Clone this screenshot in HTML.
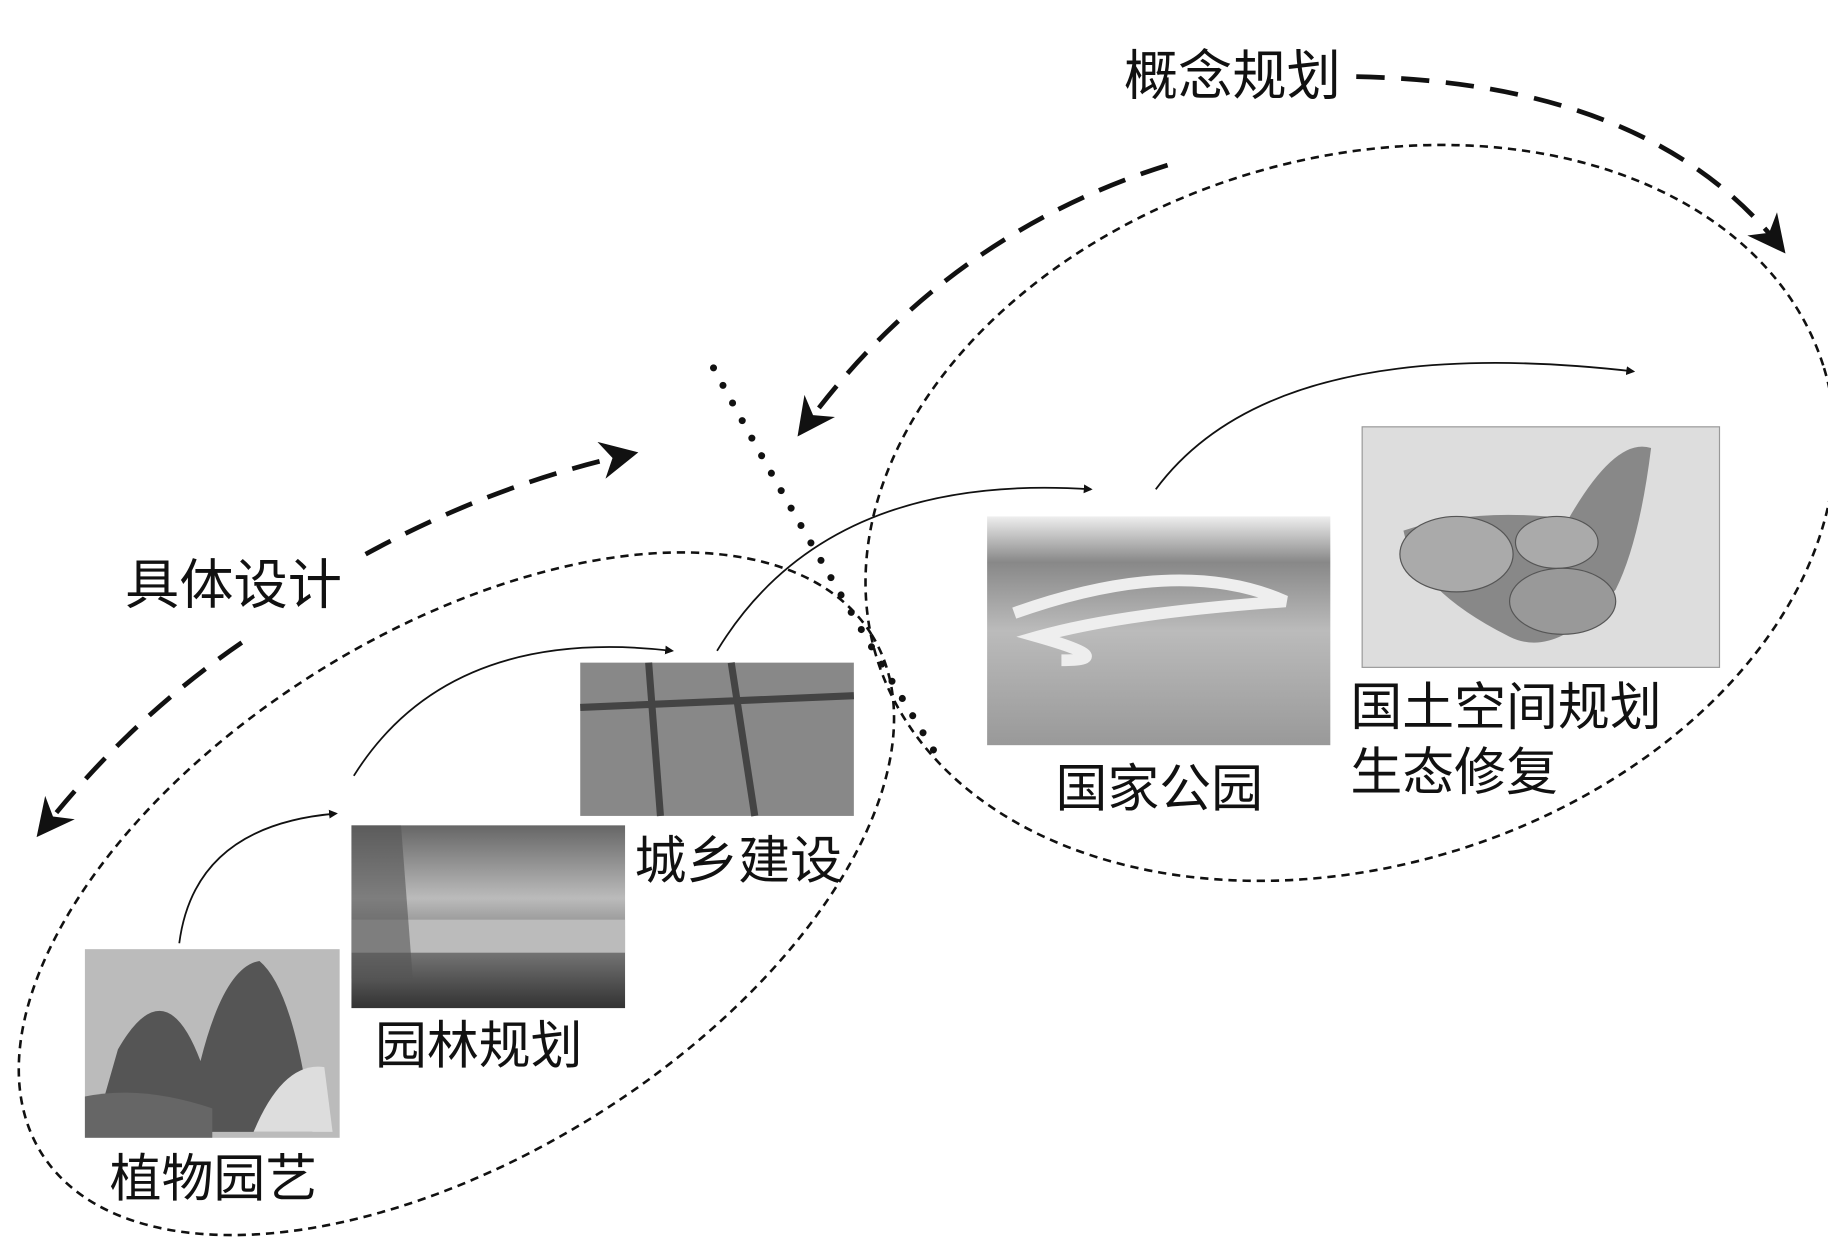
<!DOCTYPE html>
<html><head><meta charset="utf-8"><style>
html,body{margin:0;padding:0;background:#fff;overflow:hidden;width:1828px;height:1251px;}
svg{display:block;overflow:hidden}
text{font-family:"Liberation Sans","Noto Sans CJK SC",sans-serif;fill:#111;}
</style></head><body>
<svg width="1828" height="1251" viewBox="0 0 1550 1061" preserveAspectRatio="none">
<defs>
<marker id="a" viewBox="0 0 10 10" refX="8" refY="5" markerWidth="5" markerHeight="5" orient="auto"><path d="M0,0 L10,5 L0,10 z" fill="#111"/></marker>
<marker id="b" viewBox="0 0 10 10" refX="8" refY="5" markerWidth="10" markerHeight="8" orient="auto"><path d="M0,0 L10,5 L0,10 L3,5 z" fill="#111"/></marker>
<linearGradient id="sky" x1="0" y1="0" x2="0" y2="1"><stop offset="0" stop-color="#666"/><stop offset="0.4" stop-color="#bbb"/><stop offset="0.6" stop-color="#888"/><stop offset="1" stop-color="#333"/></linearGradient>
<linearGradient id="park" x1="0" y1="0" x2="0" y2="1"><stop offset="0" stop-color="#eee"/><stop offset="0.2" stop-color="#888"/><stop offset="0.5" stop-color="#bbb"/><stop offset="1" stop-color="#999"/></linearGradient>
</defs>

<ellipse cx="387" cy="758" rx="415" ry="222" transform="rotate(-32 387 758)" fill="none" stroke="#111" stroke-width="2.2" stroke-dasharray="7 5"/>
<ellipse cx="1145" cy="435" rx="420" ry="300" transform="rotate(-17 1145 435)" fill="none" stroke="#111" stroke-width="2.2" stroke-dasharray="7 5"/>

<rect x="72" y="805" width="216" height="160" fill="#bbb"/>
<path d="M80,960 L100,890 Q140,820 170,900 Q190,820 220,815 Q250,840 265,960 Z" fill="#555"/>
<path d="M215,960 Q240,900 275,905 L282,960Z" fill="#ddd"/>
<path d="M72,930 Q120,920 180,940 L180,965 L72,965Z" fill="#666"/>
<rect x="298" y="700" width="232" height="155" fill="url(#sky)"/>
<rect x="298" y="780" width="232" height="28" fill="#bbb"/>
<path d="M298,700 L340,700 L350,830 L298,830Z" fill="#555" opacity="0.6"/>
<rect x="492" y="562" width="232" height="130" fill="#888"/>
<path d="M492,600 L724,590 M550,562 L560,692 M620,562 L640,692" stroke="#444" stroke-width="6"/>
<rect x="837" y="438" width="291" height="194" fill="url(#park)"/>
<path d="M860,520 Q1000,470 1090,510 Q950,520 880,540 Q950,560 900,560" stroke="#eee" stroke-width="10" fill="none"/>
<rect x="1155" y="362" width="303" height="204" fill="#ddd" stroke="#999"/>
<path d="M1190,450 Q1250,430 1330,440 Q1370,370 1400,380 Q1390,460 1370,500 Q1320,560 1280,540 Q1200,500 1190,450Z" fill="#888"/>
<ellipse cx="1235" cy="470" rx="48" ry="32" fill="#aaa" stroke="#555"/>
<ellipse cx="1320" cy="460" rx="35" ry="22" fill="#aaa" stroke="#555"/>
<ellipse cx="1325" cy="510" rx="45" ry="28" fill="#999" stroke="#555"/>

<path d="M152,800 Q165,700 285,690" fill="none" stroke="#111" stroke-width="1.5" marker-end="url(#a)"/>
<path d="M300,658 Q380,530 570,552" fill="none" stroke="#111" stroke-width="1.5" marker-end="url(#a)"/>
<path d="M608,552 Q700,400 925,415" fill="none" stroke="#111" stroke-width="1.5" marker-end="url(#a)"/>
<path d="M980,415 Q1080,280 1385,315" fill="none" stroke="#111" stroke-width="1.5" marker-end="url(#a)"/>

<path d="M1150,65 Q1400,70 1510,210" fill="none" stroke="#111" stroke-width="4" stroke-dasharray="24 14" marker-end="url(#b)"/>
<path d="M990,140 Q800,200 680,365" fill="none" stroke="#111" stroke-width="4" stroke-dasharray="24 14" marker-end="url(#b)"/>
<path d="M310,470 Q420,410 535,385" fill="none" stroke="#111" stroke-width="4" stroke-dasharray="24 14" marker-end="url(#b)"/>
<path d="M205,545 Q110,610 35,705" fill="none" stroke="#111" stroke-width="4" stroke-dasharray="24 14" marker-end="url(#b)"/>

<path d="M605,312 Q690,470 800,650" fill="none" stroke="#111" stroke-width="6" stroke-linecap="round" stroke-dasharray="0 17"/>

<text x="953" y="80" font-size="46">概念规划</text>
<text x="106" y="512" font-size="46">具体设计</text>
<text x="93" y="1015" font-size="44">植物园艺</text>
<text x="318" y="902" font-size="44">园林规划</text>
<text x="538" y="745" font-size="44">城乡建设</text>
<text x="895" y="684" font-size="44">国家公园</text>
<text x="1145" y="615" font-size="44">国土空间规划</text>
<text x="1145" y="670" font-size="44">生态修复</text>
</svg>
</body></html>
